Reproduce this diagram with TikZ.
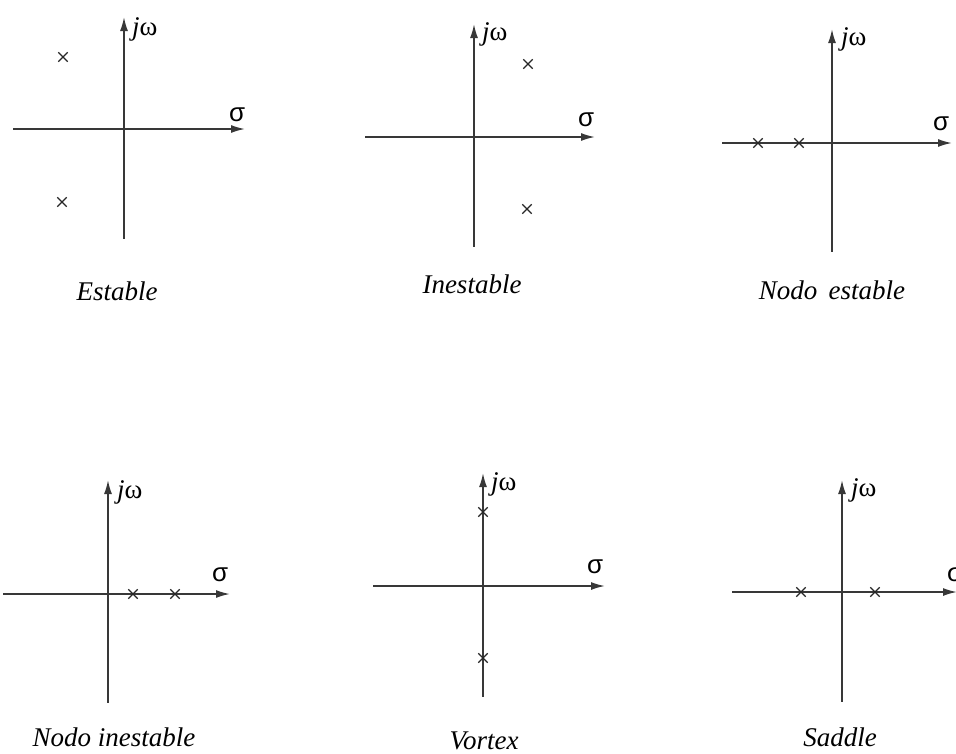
\documentclass[tikz,border=0pt]{standalone}
\usepackage{fontspec}
\setmainfont{Liberation Serif}
\newfontfamily\sansf{Liberation Sans}
\usetikzlibrary{arrows.meta,shapes.misc}
\begin{document}
\begin{tikzpicture}[x=1pt,y=-1pt,
  axis/.style={line width=1.7pt, draw=black!78, -{Latex[length=14pt,width=8pt]}},
  vaxis/.style={line width=1.7pt, draw=black!78, {Latex[length=14pt,width=8pt]}-},
  pole/.style={cross out, draw=black!85, minimum size=8pt, inner sep=0pt, line width=1.3pt},
  caption/.style={font=\itshape\fontsize{27}{30}\selectfont, anchor=base, inner sep=0pt},
  jwlab/.style={font=\fontsize{27}{30}\selectfont, anchor=base west, inner sep=0pt},
  siglab/.style={font=\sansf\fontsize{26}{28}\selectfont, anchor=base west, inner sep=0pt}]
\useasboundingbox (0,0) rectangle (956,753);
% Panel 1: Estable
\coordinate (h1l) at (13,129); \coordinate (h1r) at (245,129);
\coordinate (v1t) at (124,17); \coordinate (v1b) at (124,239);
\draw[axis] (h1l) -- (h1r);
\draw[vaxis] (v1t) -- (v1b);
\node[pole] (p11) at (63,57) {};
\node[pole] (p12) at (62,202) {};
\node[jwlab] (jw1) at (132,35) {\textit{j}ω};
\node[siglab] (s1) at (229,121) {σ};
\node[caption] (c1) at (117,300) {Estable};
% Panel 2: Inestable
\coordinate (h2l) at (365,137); \coordinate (h2r) at (595,137);
\coordinate (v2t) at (474,24); \coordinate (v2b) at (474,247);
\draw[axis] (h2l) -- (h2r);
\draw[vaxis] (v2t) -- (v2b);
\node[pole] (p21) at (528,64) {};
\node[pole] (p22) at (527,209) {};
\node[jwlab] (jw2) at (482,40) {\textit{j}ω};
\node[siglab] (s2) at (578,126) {σ};
\node[caption] (c2) at (472,293) {Inestable};
% Panel 3: Nodo estable
\coordinate (h3l) at (722,143); \coordinate (h3r) at (952,143);
\coordinate (v3t) at (832,29); \coordinate (v3b) at (832,252);
\draw[axis] (h3l) -- (h3r);
\draw[vaxis] (v3t) -- (v3b);
\node[pole] (p31) at (758,143) {};
\node[pole] (p32) at (799,143) {};
\node[jwlab] (jw3) at (841,45) {\textit{j}ω};
\node[siglab] (s3) at (933,130) {σ};
\node[caption] (c3) at (832,299) {Nodo\, estable};
% Panel 4: Nodo inestable
\coordinate (h4l) at (3,594); \coordinate (h4r) at (230,594);
\coordinate (v4t) at (108,480); \coordinate (v4b) at (108,703);
\draw[axis] (h4l) -- (h4r);
\draw[vaxis] (v4t) -- (v4b);
\node[pole] (p41) at (133,594) {};
\node[pole] (p42) at (175,594) {};
\node[jwlab] (jw4) at (117,498) {\textit{j}ω};
\node[siglab] (s4) at (212,581) {σ};
\node[caption] (c4) at (114,746) {Nodo inestable};
% Panel 5: Vortex
\coordinate (h5l) at (373,586); \coordinate (h5r) at (605,586);
\coordinate (v5t) at (483,473); \coordinate (v5b) at (483,697);
\draw[axis] (h5l) -- (h5r);
\draw[vaxis] (v5t) -- (v5b);
\node[pole] (p51) at (483,512) {};
\node[pole] (p52) at (483,658) {};
\node[jwlab] (jw5) at (491,490) {\textit{j}ω};
\node[siglab] (s5) at (587,573) {σ};
\node[caption] (c5) at (484,749) {Vortex};
% Panel 6: Saddle
\coordinate (h6l) at (732,592); \coordinate (h6r) at (957,592);
\coordinate (v6t) at (842,480); \coordinate (v6b) at (842,702);
\draw[axis] (h6l) -- (h6r);
\draw[vaxis] (v6t) -- (v6b);
\node[pole] (p61) at (801,592) {};
\node[pole] (p62) at (875,592) {};
\node[jwlab] (jw6) at (851,496) {\textit{j}ω};
\node[siglab] (s6) at (947,581) {σ};
\node[caption] (c6) at (840,746) {Saddle};
\end{tikzpicture}
\end{document}
